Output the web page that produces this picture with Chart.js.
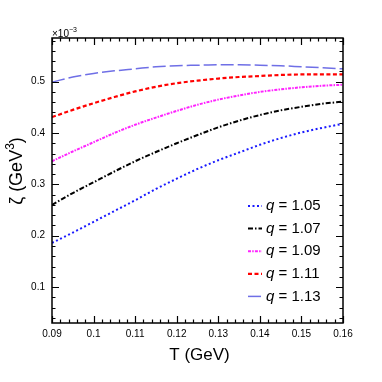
<!DOCTYPE html>
<html>
<head>
<meta charset="utf-8">
<script src="https://cdn.jsdelivr.net/npm/chart.js@4"></script>
<style>
  html, body { margin: 0; padding: 0; background: #fff; }
  #wrap { width: 382px; height: 382px; }
</style>
</head>
<body>
<div id="wrap"><canvas id="chart" width="382" height="382"></canvas></div>
<script>
// temperature grid (GeV)
const temps = [0.09, 0.095, 0.10, 0.105, 0.11, 0.115, 0.12, 0.125, 0.13, 0.135, 0.14, 0.145, 0.15, 0.155, 0.16];

// zeta in units of 1e-3 GeV^3
const zeta105 = [0.186, 0.206, 0.227, 0.248, 0.269, 0.291, 0.311, 0.330, 0.347, 0.362, 0.377, 0.390, 0.401, 0.410, 0.418];
const zeta107 = [0.260, 0.283, 0.304, 0.325, 0.345, 0.363, 0.380, 0.396, 0.411, 0.424, 0.435, 0.444, 0.451, 0.457, 0.461];
const zeta109 = [0.345, 0.364, 0.382, 0.400, 0.416, 0.430, 0.443, 0.455, 0.465, 0.473, 0.480, 0.485, 0.489, 0.492, 0.494];
const zeta111 = [0.431, 0.445, 0.458, 0.470, 0.481, 0.490, 0.497, 0.502, 0.506, 0.509, 0.511, 0.513, 0.514, 0.514, 0.514];
const zeta113 = [0.499, 0.509, 0.516, 0.521, 0.525, 0.529, 0.531, 0.532, 0.533, 0.533, 0.532, 0.531, 0.529, 0.527, 0.525];

const qLabels = ['1.05', '1.07', '1.09', '1.11', '1.13'];
const xTicks = [0.09, 0.10, 0.11, 0.12, 0.13, 0.14, 0.15, 0.16];
const yTicks = [0.1, 0.2, 0.3, 0.4, 0.5];

const styles = [
  { color: '#1a1aff', dash: [2, 2.5], width: 2 },
  { color: '#000000', dash: [5, 2, 1.5, 2], width: 2 },
  { color: '#ff22ff', dash: [3, 1.2, 1.5, 1.2], width: 2 },
  { color: '#ff0000', dash: [4, 2.5], width: 2.2 },
  { color: '#6f6fe6', dash: [13, 4], width: 1.5 }
];

const series = [zeta105, zeta107, zeta109, zeta111, zeta113];

const datasets = series.map((vals, i) => ({
  label: 'q = ' + qLabels[i],
  data: vals.map((v, j) => ({ x: temps[j], y: v })),
  borderColor: styles[i].color,
  borderDash: styles[i].dash,
  borderWidth: styles[i].width,
  pointRadius: 0,
  fill: false,
  cubicInterpolationMode: 'monotone'
}));

const FONT = '"Liberation Sans", Arial, sans-serif';

// frame, inward ticks on all sides, axis titles, exponent and legend
const decorPlugin = {
  id: 'decor',
  afterDraw(chart) {
    const ctx = chart.ctx;
    const a = chart.chartArea;
    const xs = chart.scales.x, ys = chart.scales.y;
    ctx.save();
    ctx.strokeStyle = '#000';
    ctx.lineWidth = 1.2;
    ctx.setLineDash([]);

    // minor / major ticks x
    for (let k = 0; k <= 35; k++) {
      const v = 0.09 + k * 0.002;
      const px = Math.round(xs.getPixelForValue(v)) + 0.5;
      const len = (k % 5 === 0) ? 7 : 3.5;
      ctx.beginPath();
      ctx.moveTo(px, a.bottom); ctx.lineTo(px, a.bottom - len);
      ctx.moveTo(px, a.top); ctx.lineTo(px, a.top + len);
      ctx.stroke();
    }
    // minor / major ticks y
    for (let k = 0; k <= 40; k++) {
      const v = 0.04 + k * 0.02;
      if (v > ys.max + 1e-9) break;
      const py = Math.round(ys.getPixelForValue(v)) + 0.5;
      const major = Math.abs((v * 10) - Math.round(v * 10)) < 1e-6;
      const len = major ? 7 : 3.5;
      ctx.beginPath();
      ctx.moveTo(a.left, py); ctx.lineTo(a.left + len, py);
      ctx.moveTo(a.right, py); ctx.lineTo(a.right - len, py);
      ctx.stroke();
    }
    ctx.lineWidth = 1.5;
    ctx.strokeRect(a.left, a.top, a.right - a.left, a.bottom - a.top);

    // exponent
    ctx.fillStyle = '#000';
    ctx.font = '10px ' + FONT;
    ctx.textBaseline = 'alphabetic';
    ctx.textAlign = 'left';
    ctx.fillText('\u00d710', a.left, a.top - 1);
    const ew = ctx.measureText('\u00d710').width;
    ctx.font = '7px ' + FONT;
    ctx.fillText('\u22123', a.left + ew, a.top - 6);

    // x title
    ctx.font = '17px ' + FONT;
    ctx.textAlign = 'center';
    ctx.textBaseline = 'middle';
    ctx.fillText('T (GeV)', (a.left + a.right) / 2 + 2, 355);

    // y title, with a real superscript 3
    ctx.save();
    ctx.translate(17, 171);
    ctx.rotate(-Math.PI / 2);
    ctx.textAlign = 'left';
    ctx.textBaseline = 'middle';
    ctx.font = '18px ' + FONT;
    const p1 = '\u03b6 (GeV', p3 = ')';
    const w1 = ctx.measureText(p1).width, w3 = ctx.measureText(p3).width;
    ctx.font = '12px ' + FONT;
    const w2 = ctx.measureText('3').width;
    let tx = -(w1 + w2 + w3) / 2;
    ctx.font = '18px ' + FONT;
    ctx.fillText(p1, tx, 0);
    ctx.font = '12px ' + FONT;
    ctx.fillText('3', tx + w1, -6);
    ctx.font = '18px ' + FONT;
    ctx.fillText(p3, tx + w1 + w2, 0);
    ctx.restore();

    // legend
    const x0 = 248, x1 = 262, yStart = 206, step = 22.6;
    datasets.forEach((ds, i) => {
      const y = yStart + i * step;
      ctx.strokeStyle = ds.borderColor;
      ctx.lineWidth = ds.borderWidth;
      ctx.setLineDash(ds.borderDash);
      ctx.beginPath();
      ctx.moveTo(x0, y); ctx.lineTo(x1, y);
      ctx.stroke();
      ctx.setLineDash([]);
      ctx.fillStyle = '#000';
      ctx.textAlign = 'left';
      ctx.textBaseline = 'middle';
      ctx.font = 'italic 15px ' + FONT;
      ctx.fillText('q', 266, y);
      const qw = ctx.measureText('q').width;
      ctx.font = '15px ' + FONT;
      ctx.fillText(' = ' + qLabels[i], 266 + qw, y);
    });
    ctx.restore();
  }
};

new Chart(document.getElementById('chart'), {
  type: 'line',
  data: { datasets },
  options: {
    responsive: false,
    animation: false,
    layout: { padding: { left: 0, top: 38, right: 39, bottom: 0 } },
    plugins: { legend: { display: false }, tooltip: { enabled: false } },
    scales: {
      x: {
        type: 'linear',
        min: 0.09,
        max: 0.16,
        grid: { display: false, drawTicks: false },
        border: { display: false },
        afterBuildTicks: s => { s.ticks = xTicks.map(v => ({ value: v })); },
        afterFit: s => { s.height = 59; },
        ticks: {
          padding: 5,
          color: '#000',
          maxRotation: 0,
          font: { family: FONT, size: 10 },
          callback: v => String(Math.round(v * 100) / 100)
        }
      },
      y: {
        type: 'linear',
        min: 0.03,
        max: 0.585,
        grid: { display: false, drawTicks: false },
        border: { display: false },
        afterBuildTicks: s => { s.ticks = yTicks.map(v => ({ value: v })); },
        afterFit: s => { s.width = 52; },
        ticks: {
          padding: 7,
          color: '#000',
          font: { family: FONT, size: 10 },
          callback: v => String(Math.round(v * 10) / 10)
        }
      }
    }
  },
  plugins: [decorPlugin]
});
</script>
</body>
</html>
